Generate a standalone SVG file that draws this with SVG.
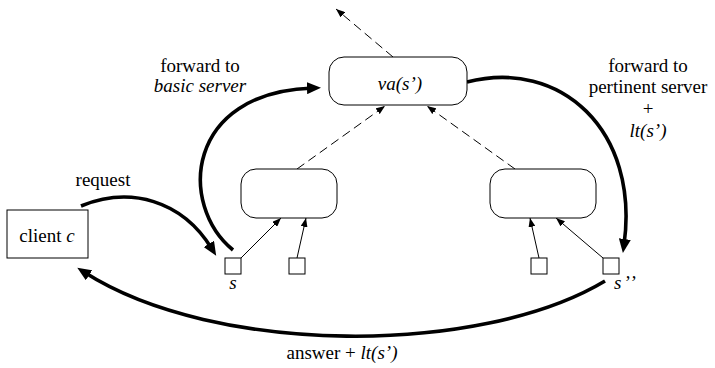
<svg xmlns="http://www.w3.org/2000/svg" width="715" height="368" viewBox="0 0 715 368">
<defs>
<style>
text{font-family:"Liberation Serif","Times New Roman",serif;font-size:19px;fill:#000}
.it{font-style:italic}
.node{fill:#fff;stroke:#000;stroke-width:1}
.thick{fill:none;stroke:#000;stroke-width:3.6}
.dash{fill:none;stroke:#000;stroke-width:1;stroke-dasharray:9,5}
.thin{fill:none;stroke:#000;stroke-width:1}
</style>
<marker id="big" viewBox="0 0 14 12" refX="6" refY="6" markerWidth="14" markerHeight="12" markerUnits="userSpaceOnUse" orient="auto">
<path d="M0,0 L14,6 L0,12 z" fill="#000"/>
</marker>
<marker id="small" viewBox="0 0 9 7" refX="9" refY="3.5" markerWidth="9" markerHeight="7" markerUnits="userSpaceOnUse" orient="auto">
<path d="M0,0 L9,3.5 L0,7 z" fill="#000"/>
</marker>
</defs>
<g id="connectors">
<path class="dash" d="M393,57 L336,9" marker-end="url(#small)"/>
<path class="dash" d="M297,169 L385,106" marker-end="url(#small)"/>
<path class="dash" d="M515,169 L427,106" marker-end="url(#small)"/>
<path class="thin" d="M241,258 L281,218" marker-end="url(#small)"/>
<path class="thin" d="M297,258 L306,218" marker-end="url(#small)"/>
<path class="thin" d="M539,258 L530,218" marker-end="url(#small)"/>
<path class="thin" d="M603,258 L556,218" marker-end="url(#small)"/>
<path class="thick" d="M81,206 C130,186 182,200 212,249" marker-end="url(#big)"/>
<path class="thick" d="M233,250 C178,205 185,92 313,88" marker-end="url(#big)"/>
<path class="thick" d="M467,82 C560,58 640,130 624,245" marker-end="url(#big)"/>
<path class="thick" d="M605,281 C480,356 215,356 84,272" marker-end="url(#big)"/>
</g>
<g id="client">
<rect class="node" x="7" y="210" width="81" height="48"/>
<text x="47" y="242" text-anchor="middle">client <tspan class="it">c</tspan></text>
</g>
<g id="va">
<rect class="node" x="329" y="57" width="138" height="48" rx="15"/>
<text x="400" y="90" text-anchor="middle" class="it">va(s’)</text>
</g>
<g id="left-node">
<rect class="node" x="241" y="169" width="96" height="49" rx="15"/>
</g>
<g id="right-node">
<rect class="node" x="490" y="169" width="106" height="49" rx="15"/>
</g>
<g id="leaf-s">
<rect class="node" x="225" y="258" width="16" height="16"/>
<text x="233" y="289" text-anchor="middle" class="it">s</text>
</g>
<g id="leaf-2">
<rect class="node" x="289" y="258" width="16" height="16"/>
</g>
<g id="leaf-3">
<rect class="node" x="531" y="258" width="16" height="16"/>
</g>
<g id="leaf-s2">
<rect class="node" x="603" y="258" width="16" height="16"/>
<text x="614" y="289" class="it" letter-spacing="2">s’’</text>
</g>
<g id="labels">
<text x="103" y="186" text-anchor="middle">request</text>
<text x="200" y="72" text-anchor="middle">forward to</text>
<text x="200" y="92" text-anchor="middle" class="it">basic server</text>
<text x="648" y="72" text-anchor="middle">forward to</text>
<text x="648" y="93" text-anchor="middle">pertinent server</text>
<text x="648" y="115" text-anchor="middle">+</text>
<text x="648" y="137" text-anchor="middle" class="it">lt(s’)</text>
<text x="342" y="359" text-anchor="middle">answer + <tspan class="it">lt(s’)</tspan></text>
</g>
</svg>
